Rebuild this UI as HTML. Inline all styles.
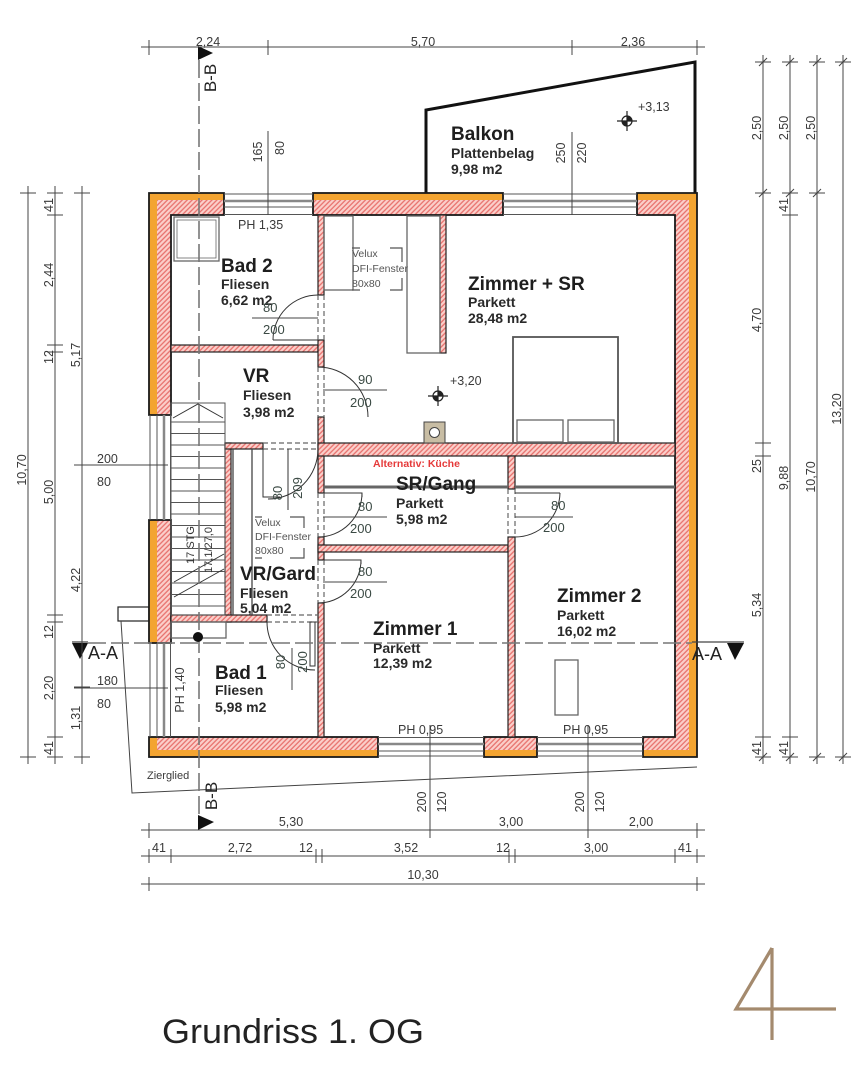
<!DOCTYPE html>
<html><head><meta charset="utf-8"><style>
html,body{margin:0;padding:0;background:#fff;}
svg{display:block;}
text{font-family:"Liberation Sans",Arial,sans-serif;}
.d{font-size:12.5px;fill:#3a3a3a;}
.dg{font-size:13px;fill:#3b4a44;}
.t{font-size:19px;font-weight:bold;fill:#1e1e1e;}
.s{font-size:14px;font-weight:bold;fill:#2a2a2a;}
.v{font-size:10.5px;fill:#555;}
</style></head><body>
<svg width="864" height="1080" viewBox="0 0 864 1080" xmlns="http://www.w3.org/2000/svg">
<defs>
<pattern id="hp" width="3.5" height="3.5" patternUnits="userSpaceOnUse" patternTransform="rotate(45)">
<rect width="3.5" height="3.5" fill="#fbcfca"/>
<line x1="0.8" y1="0" x2="0.8" y2="3.5" stroke="#e66a66" stroke-width="1.2"/>
</pattern>
</defs>
<rect width="864" height="1080" fill="#fff"/>

<!-- Balkon -->
<path d="M426,193 V110 L695,62 V193" fill="none" stroke="#111" stroke-width="3"/>

<!-- Zierglied -->
<rect x="118" y="607" width="31" height="14" fill="#fff" stroke="#222" stroke-width="1.2"/>
<polyline points="121,621 132,793 697,767" fill="none" stroke="#444" stroke-width="1"/>

<!-- Exterior walls fill -->
<g fill="url(#hp)">
<path d="M149,193H224V215H171V415H149Z"/>
<rect x="313" y="193" width="190" height="22"/>
<path d="M637,193H697V757H643V737H675V215H637Z"/>
<rect x="149" y="520" width="22" height="123"/>
<rect x="149" y="737" width="229" height="20"/>
<rect x="484" y="737" width="53" height="20"/>
</g>
<g fill="#f3a431">
<rect x="149" y="193" width="75" height="7"/>
<rect x="313" y="193" width="190" height="7"/>
<rect x="637" y="193" width="60" height="7"/>
<rect x="149" y="193" width="8" height="222"/>
<rect x="149" y="520" width="8" height="123"/>
<rect x="149" y="737" width="8" height="20"/>
<rect x="689" y="193" width="8" height="564"/>
<rect x="149" y="750" width="229" height="7"/>
<rect x="484" y="750" width="53" height="7"/>
<rect x="643" y="750" width="54" height="7"/>
</g>
<g fill="none" stroke="#1a1a1a" stroke-width="1.8">
<path d="M149,193H224V215H171V415H149Z"/>
<rect x="313" y="193" width="190" height="22"/>
<path d="M637,193H697V757H643V737H675V215H637Z"/>
<rect x="149" y="520" width="22" height="123"/>
<rect x="149" y="737" width="229" height="20"/>
<rect x="484" y="737" width="53" height="20"/>
</g>

<!-- Windows -->
<g stroke="#555" stroke-width="1" fill="none">
<path d="M224,194H313M224,207H313M224,214.5H313"/>
<path d="M503,194H637M503,207H637M503,214.5H637"/>
<path d="M150,415V520M157,415V520M170.5,415V520"/>
<path d="M150,643V737M157,643V737M170.5,643V737"/>
<path d="M378,737.5H484M378,751H484M378,756H484"/>
<path d="M537,737.5H643M537,751H643M537,756H643"/>
</g>
<g stroke="#888" stroke-width="2.5" fill="none">
<path d="M224,201H313M503,201H637M164,415V520M164,643V737M378,744H484M537,744H643"/>
</g>

<!-- Interior walls -->
<g fill="url(#hp)" stroke="#222" stroke-width="1.2">
<rect x="171" y="345" width="147" height="7"/>
<rect x="318" y="215" width="6" height="80"/>
<rect x="318" y="340" width="6" height="27"/>
<rect x="318" y="417" width="6" height="76"/>
<rect x="318" y="537" width="6" height="23"/>
<rect x="318" y="603" width="6" height="134"/>
<rect x="318" y="443" width="357" height="13"/>
<rect x="318" y="545" width="190" height="7"/>
<rect x="508" y="456" width="7" height="33"/>
<rect x="508" y="537" width="7" height="200"/>
<rect x="225" y="443" width="6" height="179"/>
<rect x="225" y="443" width="38" height="6"/>
<rect x="171" y="615" width="96" height="7"/>
<rect x="440" y="215" width="6" height="138"/>
</g>

<!-- door gap dashed lines -->
<g stroke="#666" stroke-width="1.2" stroke-dasharray="5 3" fill="none">
<path d="M318,295V340M324,295V340"/>
<path d="M318,367V417M324,367V417"/>
<path d="M318,493V537M324,493V537"/>
<path d="M318,560V603M324,560V603"/>
<path d="M508,489V537M515,489V537"/>
<path d="M263,443H318M263,449H318"/>
<path d="M267,615H318M267,622H318"/>
</g>

<!-- door arcs & leaves -->
<g stroke="#333" stroke-width="1" fill="none">
<path d="M318,295 A45,45 0 0 0 273,340"/>
<path d="M273,340H318"/>
<path d="M318,367 A50,50 0 0 1 368,417"/>
<path d="M318,537 A44,44 0 0 0 362,493"/>
<path d="M324,493H362V497"/>
<path d="M318,603 A43,43 0 0 0 361,560"/>
<path d="M324,560H361V564"/>
<path d="M515,537 A45,45 0 0 0 560,493"/>
<path d="M515,493H560"/>
<path d="M318,449 A50,50 0 0 1 268,499"/>
<path d="M263,449V497H280M288,449V510"/>
<path d="M267,622 A48,48 0 0 0 315,670"/>
<rect x="310" y="622" width="5" height="44"/>
</g>

<!-- Fixtures -->
<g fill="none" stroke="#666" stroke-width="1.3">
<rect x="174" y="217" width="45" height="44"/>
<rect x="177" y="220" width="39" height="38" stroke-width="0.8"/>
<rect x="324" y="216" width="29" height="74"/>
<rect x="407" y="216" width="33" height="137"/>
<rect x="513" y="337" width="105" height="106" stroke="#555" stroke-width="1.8"/>
<rect x="517" y="420" width="46" height="22"/>
<rect x="568" y="420" width="46" height="22"/>
<rect x="555" y="660" width="23" height="55"/>
<rect x="171" y="622" width="55" height="16"/>
<path d="M233,449V615M252,449V615" stroke="#444"/>
</g>
<rect x="424" y="422" width="21" height="21" fill="#c8bda4" stroke="#444"/>
<circle cx="434.5" cy="432.5" r="5" fill="#fff" stroke="#444"/>

<!-- Stairs -->
<g stroke="#555" stroke-width="1" fill="none">
<rect x="171" y="403" width="54" height="212"/>
<path d="M171,422H225M171,433.5H225M171,445H225M171,456.5H225M171,468H225M171,479.5H225M171,491H225M171,502.5H225M171,514H225M171,525.5H225M171,537H225M171,548.5H225M171,560H225M171,571.5H225M171,583H225M171,594.5H225M171,606H225"/>
<polyline points="173,418 198,404 223,418" stroke="#333"/>
<path d="M174,582L224,554M174,597L224,569" stroke="#333"/>
</g>
<text class="v" transform="translate(194,545) rotate(-90)" text-anchor="middle" style="font-size:11px;fill:#333">17 STG</text>
<text class="v" transform="translate(212,550) rotate(-90)" text-anchor="middle" style="font-size:11px;fill:#333">17,1/27,0</text>

<!-- SR/Gang line -->
<path d="M324,487H508M515,487H675" stroke="#666" stroke-width="3"/>

<!-- Velux -->
<g stroke="#555" stroke-width="1.2" fill="none">
<path d="M390,248H402V262M402,278V290H390M352,248H360M352,290H360"/>
<path d="M290,517H304V528M304,548V558H290M255,517H262M255,558H262"/>
</g>
<text class="v" x="352" y="257">Velux</text>
<text class="v" x="352" y="272">DFI-Fenster</text>
<text class="v" x="352" y="287">80x80</text>
<text class="v" x="255" y="526">Velux</text>
<text class="v" x="255" y="540">DFI-Fenster</text>
<text class="v" x="255" y="554">80x80</text>

<!-- Elevation markers -->
<g stroke="#222" stroke-width="1.2" fill="none">
<circle cx="627" cy="121" r="5"/>
<path d="M617,121H637M627,111V131"/>
<circle cx="438" cy="396" r="5"/>
<path d="M428,396H448M438,386V406"/>
</g>
<path d="M627,121V116A5,5 0 0 1 632,121Z M627,121V126A5,5 0 0 1 622,121Z" fill="#222"/>
<path d="M438,396V391A5,5 0 0 1 443,396Z M438,396V401A5,5 0 0 1 433,396Z" fill="#222"/>
<text class="d" x="638" y="111">+3,13</text>
<text class="d" x="450" y="385">+3,20</text>

<!-- Room labels -->
<text class="t" x="451" y="140">Balkon</text>
<text class="s" x="451" y="158">Plattenbelag</text>
<text class="s" x="451" y="174">9,98 m2</text>

<text class="t" x="468" y="290">Zimmer + SR</text>
<text class="s" x="468" y="307">Parkett</text>
<text class="s" x="468" y="323">28,48 m2</text>

<text class="t" x="221" y="272">Bad 2</text>
<text class="s" x="221" y="289">Fliesen</text>
<text class="s" x="221" y="305">6,62 m2</text>

<text class="t" x="243" y="382">VR</text>
<text class="s" x="243" y="400">Fliesen</text>
<text class="s" x="243" y="417">3,98 m2</text>

<text x="373" y="467" style="font-size:10.5px;font-weight:bold;fill:#e53a3a">Alternativ: Küche</text>
<text class="t" x="396" y="490">SR/Gang</text>
<text class="s" x="396" y="508">Parkett</text>
<text class="s" x="396" y="524">5,98 m2</text>

<text class="t" x="240" y="580">VR/Gard</text>
<text class="s" x="240" y="598">Fliesen</text>
<text class="s" x="240" y="613">5,04 m2</text>

<text class="t" x="373" y="635">Zimmer 1</text>
<text class="s" x="373" y="653">Parkett</text>
<text class="s" x="373" y="668">12,39 m2</text>

<text class="t" x="557" y="602">Zimmer 2</text>
<text class="s" x="557" y="620">Parkett</text>
<text class="s" x="557" y="636">16,02 m2</text>

<text class="t" x="215" y="679">Bad 1</text>
<text class="s" x="215" y="695">Fliesen</text>
<text class="s" x="215" y="712">5,98 m2</text>

<!-- Door dims -->
<g stroke="#444" stroke-width="1">
<path d="M252,318H318M323,390H387M323,517H387M323,582H387M515,517H573M292,648V690"/>
</g>
<text class="dg" x="263" y="312">80</text>
<text class="dg" x="263" y="334">200</text>
<text class="dg" x="358" y="384">90</text>
<text class="dg" x="350" y="407">200</text>
<text class="dg" x="358" y="511">80</text>
<text class="dg" x="350" y="533">200</text>
<text class="dg" x="358" y="576">80</text>
<text class="dg" x="350" y="598">200</text>
<text class="dg" x="551" y="510">80</text>
<text class="dg" x="543" y="532">200</text>
<text class="dg" transform="translate(282,493) rotate(-90)" text-anchor="middle">80</text>
<text class="dg" transform="translate(302,488) rotate(-90)" text-anchor="middle">209</text>
<text class="dg" transform="translate(285,662) rotate(-90)" text-anchor="middle">80</text>
<text class="dg" transform="translate(307,662) rotate(-90)" text-anchor="middle">200</text>

<!-- PH labels -->
<text class="d" x="238" y="229">PH 1,35</text>
<text class="d" x="398" y="734">PH 0,95</text>
<text class="d" x="563" y="734">PH 0,95</text>
<text class="d" transform="translate(184,690) rotate(-90)" text-anchor="middle">PH 1,40</text>
<text class="d" x="147" y="779" style="font-size:11px">Zierglied</text>

<!-- Window leader dims -->
<g stroke="#444" stroke-width="1">
<path d="M268,131V215M572,132V215M430,725V838M588,725V838M74,465H168M74,688H168"/>
</g>
<text class="d" transform="translate(262,152) rotate(-90)" text-anchor="middle">165</text>
<text class="d" transform="translate(284,148) rotate(-90)" text-anchor="middle">80</text>
<text class="d" transform="translate(565,153) rotate(-90)" text-anchor="middle">250</text>
<text class="d" transform="translate(586,153) rotate(-90)" text-anchor="middle">220</text>
<text class="d" transform="translate(426,802) rotate(-90)" text-anchor="middle">200</text>
<text class="d" transform="translate(446,802) rotate(-90)" text-anchor="middle">120</text>
<text class="d" transform="translate(584,802) rotate(-90)" text-anchor="middle">200</text>
<text class="d" transform="translate(604,802) rotate(-90)" text-anchor="middle">120</text>
<text class="d" x="97" y="463">200</text>
<text class="d" x="97" y="486">80</text>
<text class="d" x="97" y="685">180</text>
<text class="d" x="97" y="708">80</text>

<!-- Section lines -->
<g stroke="#777" stroke-width="1.6" stroke-dasharray="18 5" fill="none">
<path d="M199,60V815"/>
<path d="M88,643H692"/>
</g>
<path d="M72,642H88M692,642H744" stroke="#444" stroke-width="1.2"/>
<path d="M198,46L198,60L213,53Z" fill="#111"/>
<path d="M198,815L198,830L214,822Z" fill="#111"/>
<path d="M72,643L88,643L80,659Z" fill="#111"/>
<path d="M727,643L744,643L735,660Z" fill="#111"/>
<text transform="translate(216,78) rotate(-90)" text-anchor="middle" style="font-size:17px;fill:#222">B-B</text>
<text transform="translate(217,796) rotate(-90)" text-anchor="middle" style="font-size:17px;fill:#222">B-B</text>
<text x="88" y="659" style="font-size:18px;fill:#222">A-A</text>
<text x="692" y="660" style="font-size:18px;fill:#222">A-A</text>
<circle cx="198" cy="637" r="5" fill="#111"/>

<!-- Dimension lines -->
<g stroke="#444" stroke-width="1" fill="none">
<!-- top -->
<path d="M141,47H705"/>
<path d="M149,40V55M268,40V55M572,40V55M697,40V55"/>
<!-- bottom -->
<path d="M141,830H705M141,856H705M141,884H705"/>
<path d="M149,823V838M430,823V838M588,823V838M697,823V838"/>
<path d="M149,849V863M171,849V863M316,849V863M322,849V863M509,849V863M515,849V863M675,849V863M697,849V863"/>
<path d="M149,877V891M697,877V891"/>
<!-- right -->
<path d="M763,55V764M790,55V764M817,55V764M843,55V764"/>
<path d="M755,62H771M755,193H771M755,443H771M755,456H771M755,737H771M755,757H771"/>
<path d="M782,62H798M782,193H798M782,215H798M782,737H798M782,757H798"/>
<path d="M809,62H825M809,193H825M809,757H825"/>
<path d="M835,62H851M835,757H851"/>
<path d="M759,66L767,58M759,197L767,189M786,66L794,58M786,197L794,189M813,66L821,58M813,197L821,189M839,66L847,58M839,761L847,753M813,761L821,753M759,761L767,753M786,761L794,753"/>
<!-- left -->
<path d="M28,186V764M55,186V764M82,186V764"/>
<path d="M20,193H36M20,757H36"/>
<path d="M47,193H63M47,215H63M47,345H63M47,352H63M47,615H63M47,622H63M47,737H63M47,757H63"/>
<path d="M74,193H90M74,465H90M74,687H90M74,757H90"/>
</g>

<!-- Dimension labels -->
<text class="d" x="208" y="46" text-anchor="middle">2,24</text>
<text class="d" x="423" y="46" text-anchor="middle">5,70</text>
<text class="d" x="633" y="46" text-anchor="middle">2,36</text>

<text class="d" x="291" y="826" text-anchor="middle">5,30</text>
<text class="d" x="511" y="826" text-anchor="middle">3,00</text>
<text class="d" x="641" y="826" text-anchor="middle">2,00</text>
<text class="d" x="159" y="852" text-anchor="middle">41</text>
<text class="d" x="240" y="852" text-anchor="middle">2,72</text>
<text class="d" x="306" y="852" text-anchor="middle">12</text>
<text class="d" x="406" y="852" text-anchor="middle">3,52</text>
<text class="d" x="503" y="852" text-anchor="middle">12</text>
<text class="d" x="596" y="852" text-anchor="middle">3,00</text>
<text class="d" x="685" y="852" text-anchor="middle">41</text>
<text class="d" x="423" y="879" text-anchor="middle">10,30</text>

<g class="d" text-anchor="middle">
<text class="d" transform="translate(761,128) rotate(-90)">2,50</text>
<text class="d" transform="translate(788,128) rotate(-90)">2,50</text>
<text class="d" transform="translate(815,128) rotate(-90)">2,50</text>
<text class="d" transform="translate(788,205) rotate(-90)">41</text>
<text class="d" transform="translate(761,320) rotate(-90)">4,70</text>
<text class="d" transform="translate(761,466) rotate(-90)">25</text>
<text class="d" transform="translate(788,478) rotate(-90)">9,88</text>
<text class="d" transform="translate(815,477) rotate(-90)">10,70</text>
<text class="d" transform="translate(841,409) rotate(-90)">13,20</text>
<text class="d" transform="translate(761,605) rotate(-90)">5,34</text>
<text class="d" transform="translate(761,748) rotate(-90)">41</text>
<text class="d" transform="translate(788,748) rotate(-90)">41</text>

<text class="d" transform="translate(26,470) rotate(-90)">10,70</text>
<text class="d" transform="translate(53,205) rotate(-90)">41</text>
<text class="d" transform="translate(53,275) rotate(-90)">2,44</text>
<text class="d" transform="translate(53,357) rotate(-90)">12</text>
<text class="d" transform="translate(53,492) rotate(-90)">5,00</text>
<text class="d" transform="translate(53,632) rotate(-90)">12</text>
<text class="d" transform="translate(53,688) rotate(-90)">2,20</text>
<text class="d" transform="translate(53,748) rotate(-90)">41</text>
<text class="d" transform="translate(80,355) rotate(-90)">5,17</text>
<text class="d" transform="translate(80,580) rotate(-90)">4,22</text>
<text class="d" transform="translate(80,718) rotate(-90)">1,31</text>
</g>

<!-- Title -->
<text x="162" y="1043" textLength="262" lengthAdjust="spacingAndGlyphs" style="font-size:34px;fill:#222">Grundriss 1. OG</text>
<path d="M772,948 L736,1009 H836 M772,948 V1040" fill="none" stroke="#a48a6e" stroke-width="3.2" stroke-linejoin="miter"/>
</svg>
</body></html>
